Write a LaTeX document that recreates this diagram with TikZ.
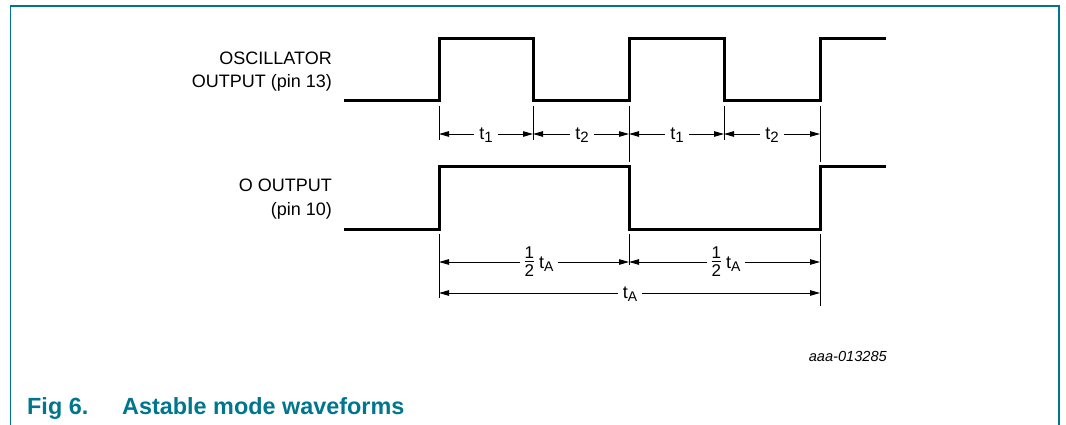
\documentclass[tikz,border=0pt]{standalone}
\usepackage{fontspec}
\setmainfont{Liberation Sans}
\usetikzlibrary{arrows.meta}
\definecolor{nxpteal}{HTML}{00768E}
\newcommand{\tsub}[1]{t\raisebox{-3pt}{\fontsize{15}{15}\selectfont #1}}
\newcommand{\tA}{t\raisebox{-3pt}{\fontsize{14}{14}\selectfont A}}
\newcommand{\halfof}{\raisebox{-8pt}{\fontsize{17}{17}\selectfont\vbox{\hbox to 9.5pt{\hss 1\hss}\kern3pt\hrule height 0.9pt\kern2pt\hbox to 9.5pt{\hss 2\hss}}}}
\begin{document}
\begin{tikzpicture}[x=1pt,y=-1pt,
  wave/.style={line width=3pt, line join=miter},
  ext/.style={line width=0.9pt},
  dim/.style={line width=0.9pt, -{Triangle[length=10pt,width=5.5pt]}},
  lab/.style={font=\fontsize{18}{23}\selectfont, anchor=base east, inner sep=0pt},
  dlab/.style={font=\fontsize{18}{18}\selectfont, anchor=base, inner xsep=5pt, inner ysep=0pt},
  capstyle/.style={font=\bfseries\fontsize{23.4}{23.4}\selectfont, text=nxpteal, anchor=base west, inner sep=0pt},
]
\useasboundingbox (0,0) rectangle (1066,425);
% frame
\draw[nxpteal, line width=1.5pt] (10.5,426) -- (10.5,6) -- (1059,6) -- (1059,426);

% labels
\node[lab] (l1a) at (332,65) {OSCILLATOR};
\node[lab] (l1b) at (332,88) {OUTPUT (pin 13)};
\node[lab] (l2a) at (332,192) {O OUTPUT};
\node[lab] (l2b) at (332,215) {(pin 10)};

% waveforms
\draw[wave] (344,101) -- (439,101) -- (439,39) -- (533,39) -- (533,101) -- (629,101)
  -- (629,39) -- (724,39) -- (724,101) -- (820,101) -- (820,39) -- (886,39);
\draw[wave] (344,229) -- (439,229) -- (439,167) -- (629,167) -- (629,229)
  -- (820,229) -- (820,167) -- (886,167);

% extension lines
\draw[ext] (439,106) -- (439,140);
\draw[ext] (533,106) -- (533,140);
\draw[ext] (629,106) -- (629,162);
\draw[ext] (724,106) -- (724,140);
\draw[ext] (820,106) -- (820,162);
\draw[ext] (439,234) -- (439,298);
\draw[ext] (629,234) -- (629,265);
\draw[ext] (820,234) -- (820,306);

% dimension coordinates
\coordinate (p1) at (439,134);
\coordinate (p2) at (533,134);
\coordinate (p3) at (629,134);
\coordinate (p4) at (724,134);
\coordinate (p5) at (820,134);
\coordinate (q1) at (439,262);
\coordinate (q2) at (629,262);
\coordinate (q3) at (820,262);
\coordinate (r1) at (439,293);
\coordinate (r2) at (820,293);

% row 1
\node[dlab] (d1) at (486,140) {\tsub{1}};
\node[dlab] (d2) at (582,140) {\tsub{2}};
\node[dlab] (d3) at (677,140) {\tsub{1}};
\node[dlab] (d4) at (772,140) {\tsub{2}};
\draw[dim] (d1.west |- p1) -- (p1);
\draw[dim] (d1.east |- p2) -- (p2);
\draw[dim] (d2.west |- p2) -- (p2);
\draw[dim] (d2.east |- p3) -- (p3);
\draw[dim] (d3.west |- p3) -- (p3);
\draw[dim] (d3.east |- p4) -- (p4);
\draw[dim] (d4.west |- p4) -- (p4);
\draw[dim] (d4.east |- p5) -- (p5);

% row 2
\node[dlab, inner xsep=4pt] (h1) at (539,268) {\halfof\hspace{5pt}\tA};
\node[dlab, inner xsep=4pt] (h2) at (726,268) {\halfof\hspace{5pt}\tA};
\draw[dim] (h1.west |- q1) -- (q1);
\draw[dim] (h1.east |- q2) -- (q2);
\draw[dim] (h2.west |- q2) -- (q2);
\draw[dim] (h2.east |- q3) -- (q3);

% row 3
\node[dlab] (ta) at (630,298) {\tA};
\draw[dim] (ta.west |- r1) -- (r1);
\draw[dim] (ta.east |- r2) -- (r2);

% id and caption
\node[anchor=base east, inner sep=0pt, font=\itshape\fontsize{14.6}{14.6}\selectfont] (id) at (887,361) {aaa-013285};
\node[capstyle] (c1) at (27,414) {Fig 6.};
\node[capstyle] (c2) at (122,414) {Astable mode waveforms};
\end{tikzpicture}
\end{document}
